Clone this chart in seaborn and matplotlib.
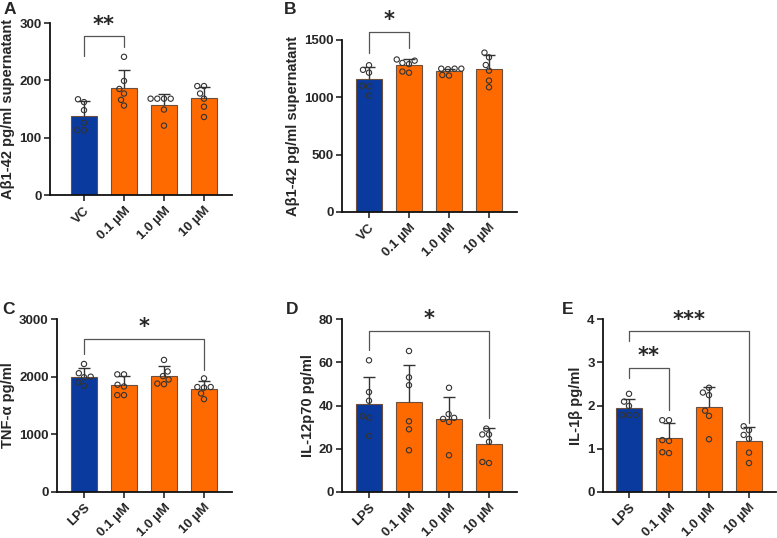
import numpy as np
import pandas as pd
import matplotlib
matplotlib.use("Agg")
import matplotlib.pyplot as plt
import seaborn as sns

sns.set_style("ticks")
plt.rcParams["font.family"] = ["Liberation Sans", "DejaVu Sans"]
plt.rcParams["font.weight"] = "bold"
plt.rcParams["axes.labelweight"] = "bold"

# ---------------- data ----------------
groups_vc = ["VC", "0.1 µM", "1.0 µM", "10 µM"]
groups_lps = ["LPS", "0.1 µM", "1.0 µM", "10 µM"]

a_points = [[167, 162, 148, 126, 113, 113],
            [241, 199, 185, 177, 166, 156],
            [168, 168, 168, 168, 149, 121],
            [190, 190, 177, 168, 154, 136]]
a_sd = [26, 30, 19, 20]

b_points = [[1280, 1240, 1215, 1100, 1095, 1015],
            [1330, 1320, 1300, 1290, 1225, 1215],
            [1250, 1250, 1250, 1245, 1195, 1190],
            [1390, 1349, 1282, 1233, 1146, 1088]]
b_sd = [110, 50, 20, 119]

c_points = [[2220, 2060, 2000, 1990, 1900, 1840],
            [2040, 2040, 1860, 1830, 1680, 1680],
            [2290, 2090, 2010, 1950, 1880, 1870],
            [1970, 1820, 1820, 1810, 1710, 1610]]
c_sd = [140, 162, 165, 127]

d_points = [[60.9, 46.2, 42.2, 35.1, 34.3, 25.9],
            [65.2, 53.0, 49.4, 32.7, 29.0, 19.3],
            [48.2, 36.0, 34.3, 33.8, 32.4, 17.0],
            [29.3, 26.6, 26.6, 23.2, 13.9, 13.4]]
d_sd = [12.3, 17.2, 10.1, 7.2]

e_points = [[2.27, 2.09, 1.99, 1.78, 1.78, 1.78],
            [1.66, 1.66, 1.20, 1.18, 0.92, 0.90],
            [2.41, 2.30, 2.24, 1.88, 1.76, 1.22],
            [1.52, 1.43, 1.32, 1.23, 0.91, 0.67]]
e_sd = [0.21, 0.35, 0.45, 0.33]

BLUE = "#0a3a9e"
ORANGE = "#ff6a00"
EDGE = "#6b5040"
DARK = "#333333"

W, H = 777, 538
fig = plt.figure(figsize=(W / 100, H / 100), dpi=100)


def px_axes(left, right, top, bottom):
    return fig.add_axes([left / W, 1 - bottom / H, (right - left) / W, (bottom - top) / H])


def panel(ax, groups, points, sd, ylim, yticks, ylabel, xlim, brackets, letter, letter_xy):
    df = pd.DataFrame({
        "group": np.repeat(groups, [len(p) for p in points]),
        "value": np.concatenate([np.asarray(p, float) for p in points]),
    })
    pal = {g: (BLUE if i == 0 else ORANGE) for i, g in enumerate(groups)}
    sns.barplot(data=df, x="group", y="value", hue="group", order=groups, hue_order=groups,
                palette=pal, saturation=1, errorbar=None, width=0.65, edgecolor=EDGE,
                linewidth=0.8, legend=False, ax=ax, zorder=2)
    n0 = len(ax.collections)
    sns.swarmplot(data=df, x="group", y="value", order=groups, size=3.8, color="white",
                  edgecolor=DARK, linewidth=0.8, ax=ax, zorder=3)
    for coll in ax.collections[n0:]:
        coll.set_facecolor("none")
    means = df.groupby("group", sort=False)["value"].mean().reindex(groups).values
    xs = np.arange(len(groups))
    tops = means + np.asarray(sd)
    ax.vlines(xs, means, tops, color=DARK, lw=1.0, zorder=4)
    ax.hlines(tops, xs - 0.16, xs + 0.16, color=DARK, lw=1.0, zorder=4)

    for (x1, x2, ytop, yl, yr, ystar, label) in brackets:
        ax.plot([x1, x1, x2, x2], [yl, ytop, ytop, yr], color="#555555", lw=0.9,
                clip_on=False, zorder=5)
        ax.text((x1 + x2) / 2, ystar, label, ha="center", va="center", fontsize=15,
                fontweight="bold", family=["DejaVu Sans"], clip_on=False)

    ax.set_ylim(*ylim)
    ax.set_yticks(yticks)
    ax.set_xlim(*xlim)
    ax.set_xlabel("")
    ax.set_ylabel(ylabel, fontsize=10.5, fontweight="bold", labelpad=3)
    ax.set_xticks(xs)
    ax.set_xticklabels(groups, rotation=45, ha="right", rotation_mode="anchor",
                       fontsize=9.5, fontweight="bold")
    ax.tick_params(axis="y", labelsize=9.5, length=4, width=1.2, pad=2)
    ax.tick_params(axis="x", length=4, width=1.2, pad=3)
    for lab in ax.get_yticklabels():
        lab.set_fontweight("bold")
    sns.despine(ax=ax)
    for s in ("left", "bottom"):
        ax.spines[s].set_linewidth(1.3)
        ax.spines[s].set_color("#111111")
    fig.text(letter_xy[0] / W, 1 - letter_xy[1] / H, letter, fontsize=12.5,
             fontweight="bold", ha="left", va="center")


axA = px_axes(50, 232, 23, 195)
panel(axA, groups_vc, a_points, a_sd, (0, 300), [0, 100, 200, 300],
      "Aβ1-42 pg/ml supernatant", (-0.85, 3.7),
      [(0, 1, 277, 243, 258, 296, "**")], "A", (4, 9))

axB = px_axes(342, 517, 40, 212)
panel(axB, groups_vc, b_points, b_sd, (0, 1500), [0, 500, 1000, 1500],
      "Aβ1-42 pg/ml supernatant", (-0.675, 3.7),
      [(0, 1, 1567, 1384, 1433, 1674, "*")], "B", (284, 9))

axC = px_axes(57, 232, 319, 492)
panel(axC, groups_lps, c_points, c_sd, (0, 3000), [0, 1000, 2000, 3000],
      "TNF-α pg/ml", (-0.675, 3.7),
      [(0, 3, 2652, 2397, 2118, 2861, "*")], "C", (2, 309))

axD = px_axes(342, 517, 319, 492)
panel(axD, groups_lps, d_points, d_sd, (0, 80), [0, 20, 40, 60, 80],
      "IL-12p70 pg/ml", (-0.675, 3.7),
      [(0, 3, 74.6, 65.6, 34, 80, "*")], "D", (286, 309))

axE = px_axes(603, 776, 319, 492)
panel(axE, groups_lps, e_points, e_sd, (0, 4), [0, 1, 2, 3, 4],
      "IL-1β pg/ml", (-0.65, 3.675),
      [(0, 3, 3.73, 3.48, 1.59, 3.98, "***"),
       (0, 1, 2.86, 2.63, 1.90, 3.15, "**")], "E", (562, 309))

fig.savefig("out.png", dpi=100)
